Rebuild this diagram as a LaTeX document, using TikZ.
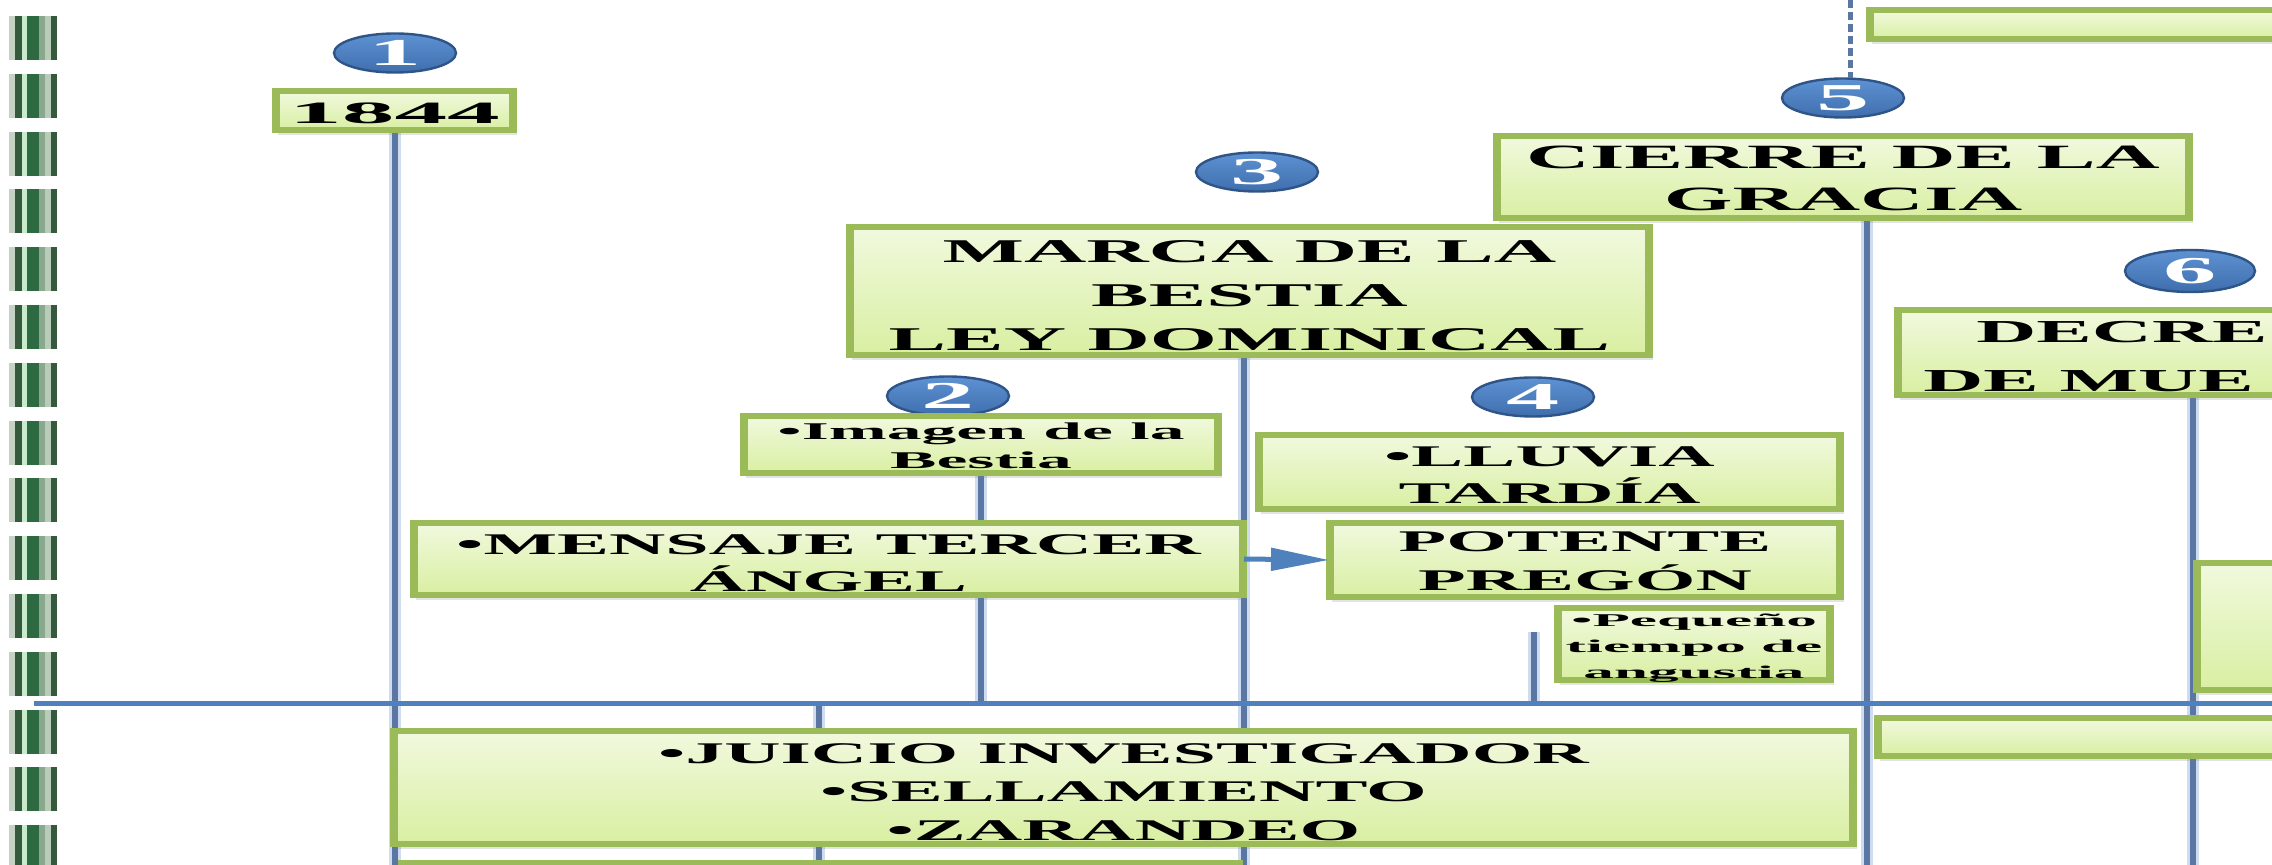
\documentclass[tikz,border=0pt]{standalone}
\usepackage{fontspec}
\usetikzlibrary{shapes.geometric, shadows, arrows.meta}
\newfontfamily\tfa{Liberation Serif}[FakeStretch=2.6]
\newfontfamily\tfb{Liberation Serif}[FakeStretch=2.9]
\newfontfamily\tfc{Liberation Serif}[FakeStretch=3.4]
\newfontfamily\nf{Liberation Serif}[FakeStretch=2.8]
\definecolor{gborder}{HTML}{9BBB59}
\definecolor{gtop}{HTML}{F1F9DE}
\definecolor{gbot}{HTML}{D9EFA2}
\definecolor{vline}{HTML}{5A76A2}
\definecolor{vhalo}{HTML}{CFDCEF}
\definecolor{tline}{HTML}{4F81BD}
\definecolor{ofillL}{HTML}{5E92D3}
\definecolor{ofillD}{HTML}{3F6EAD}
\definecolor{oedge}{HTML}{2F5487}
\definecolor{sdark}{HTML}{34593D}
\definecolor{sdarkg}{HTML}{2E6A41}
\definecolor{slgray}{HTML}{C5D3C5}
\definecolor{slgreen}{HTML}{C8EBCB}
\definecolor{sgg}{HTML}{8AA88E}
\definecolor{slgg}{HTML}{B9CBB9}
\pgfdeclarelayer{bg}
\pgfsetlayers{bg,main}
\begin{document}
\begin{tikzpicture}[x=0.5pt, y=-0.5pt,
  gbox/.style={draw=gborder, line width=3pt, top color=gtop, bottom color=gbot,
    inner sep=0pt, outer sep=0pt,
    drop shadow={opacity=0.22, shadow xshift=1.5pt, shadow yshift=-2.5pt}},
  txt/.style={inner sep=0pt, align=center, text=black},
  oval/.style={ellipse, draw=oedge, line width=1.2pt, top color=ofillL, bottom color=ofillD,
    inner sep=0pt, outer sep=0pt, minimum width=61pt, minimum height=19.5pt, text=white,
    font=\nf\bfseries\fontsize{19pt}{19pt}\selectfont},
  big/.style={font=\tfa\bfseries\fontsize{16.6pt}{22pt}\selectfont},
  mid/.style={font=\tfa\bfseries\fontsize{15pt}{18.5pt}\selectfont},
  vhal/.style={draw=vhalo, line width=6pt},
  vcore/.style={draw=vline, line width=3pt},
  tl/.style={draw=tline, line width=2.5pt},
  arr/.style={draw=tline, line width=2.5pt, -{Triangle[length=29pt, width=11pt]}},
  dsh/.style={draw=vline, line width=2.5pt, dash pattern=on 4pt off 2pt},
  side/.style={draw=gborder, line width=2.5pt}]
\useasboundingbox (0,0) rectangle (2272,865);
\clip (0,0) rectangle (2272,865);

% helper coordinates
\coordinate (bot) at (0,865);
\coordinate (tlA) at (34,704);
\coordinate (tlB) at (2272,704);
\coordinate (v2t) at (819,704);
\coordinate (v4x) at (1244,0);
\coordinate (v5t) at (1534,632);
\coordinate (v6x) at (1867,0);
\coordinate (v7x) at (2193,0);
\coordinate (top5) at (1850,0);

% boxes
\path
  node[gbox, minimum width=119.5pt, minimum height=19.5pt] (b1844) at (394.5,110.5) {}
  node[gbox, minimum width=400.5pt, minimum height=64pt] (marca) at (1249.5,291) {}
  node[gbox, minimum width=238pt, minimum height=28.5pt] (imagen) at (981,444.5) {}
  node[gbox, minimum width=415.5pt, minimum height=36pt] (mensaje) at (828.5,559) {}
  node[gbox, minimum width=291.5pt, minimum height=37pt] (lluvia) at (1549.5,472) {}
  node[gbox, minimum width=256pt, minimum height=37pt] (potente) at (1585,560) {}
  node[gbox, minimum width=137pt, minimum height=36pt] (pequeno) at (1694,644) {}
  node[gbox, minimum width=730.5pt, minimum height=56.5pt] (juicio) at (1123.5,787.5) {}
  node[gbox, minimum width=347pt, minimum height=41pt] (cierre) at (1843,177) {}
  node[gbox, minimum width=275pt, minimum height=42.5pt] (decreto) at (2172,352.5) {}
  node[gbox, minimum width=320.5pt, minimum height=14.5pt] (topright) at (2189.5,24.5) {}
  node[gbox, minimum width=152pt, minimum height=63.5pt] (rightbox) at (2348,626.5) {}
  node[gbox, minimum width=311.5pt, minimum height=19pt] (rightlow) at (2188.5,737) {}
  node[gbox, minimum width=419.5pt, minimum height=28.5pt] (bottombox) at (820.5,891.5) {};

% thicker vertical sides of the boxes
\foreach \n in {b1844,marca,imagen,mensaje,lluvia,potente,pequeno,juicio,cierre,decreto,topright,rightbox,rightlow,bottombox}{
  \draw[side] ([xshift=1.25pt]\n.north west) -- ([xshift=1.25pt]\n.south west);
  \draw[side] ([xshift=-1.25pt]\n.north east) -- ([xshift=-1.25pt]\n.south east);
}

% box texts
\node[txt, font=\tfc\bfseries\fontsize{15.5pt}{18pt}\selectfont] (t1844) at ([yshift=-1.5pt]b1844.center) {1844};
\node[txt, big] (tmarca) at ([yshift=-2.2pt]marca.center) {MARCA DE LA\\BESTIA\\LEY DOMINICAL};
\node[txt, font=\tfb\bfseries\fontsize{12pt}{14.5pt}\selectfont] (timagen) at ([yshift=-0.7pt]imagen.center) {•Imagen de la\\Bestia};
\node[txt, mid] (tmensaje) at ([yshift=-2.2pt]mensaje.center) {•MENSAJE TERCER\\ÁNGEL};
\node[txt, mid] (tlluvia) at ([yshift=-1.5pt]lluvia.center) {•LLUVIA\\TARDÍA};
\node[txt, font=\tfa\bfseries\fontsize{15pt}{19.5pt}\selectfont] (tpotente) at ([yshift=-0.7pt]potente.center) {POTENTE\\PREGÓN};
\node[txt, font=\tfc\bfseries\fontsize{9pt}{13pt}\selectfont] (tpequeno) at ([yshift=-2pt]pequeno.center) {•Pequeño\\tiempo de\\angustia};
\node[txt, font=\tfa\bfseries\fontsize{15pt}{19.3pt}\selectfont] (tjuicio) at ([yshift=-2.2pt]juicio.center) {•JUICIO INVESTIGADOR\\•SELLAMIENTO\\•ZARANDEO};
\node[txt, font=\tfa\bfseries\fontsize{17pt}{21pt}\selectfont] (tcierre) at ([yshift=-0.7pt]cierre.center) {CIERRE DE LA\\GRACIA};
% visible part of the text of the box cut by the right edge
\node[anchor=base west, inner sep=0pt, font=\tfa\bfseries\fontsize{16pt}{22pt}\selectfont] (dec1) at (1976,343) {DECRE};
\node[anchor=base west, inner sep=0pt, font=\tfa\bfseries\fontsize{16pt}{22pt}\selectfont] (dec2) at (1923,392) {DE MUE};

% arrow
\draw[arr] (mensaje.east) -- (potente.west);

\begin{pgfonlayer}{bg}
\clip (0,0) rectangle (2272,865);
\fill[white] (0,0) rectangle (2272,865);
% left stripes
\foreach \i in {0,...,14}{
  \pgfmathsetmacro{\yy}{16+57.8*\i}
  \fill[slgray] (9,\yy) rectangle (15,\yy+44);
  \fill[sdark] (15,\yy) rectangle (22,\yy+44);
  \fill[slgreen] (22,\yy) rectangle (27,\yy+44);
  \fill[sdarkg] (27,\yy) rectangle (39,\yy+44);
  \fill[sgg] (39,\yy) rectangle (45,\yy+44);
  \fill[slgg] (45,\yy) rectangle (51,\yy+44);
  \fill[sdark] (51,\yy) rectangle (57,\yy+44);
}
% vertical connectors
\foreach \s in {vhal,vcore}{
  \draw[\s] (b1844.south) -- (b1844.south |- bot);
  \draw[\s] (v2t) -- (v2t |- bot);
  \draw[\s] (imagen.south) -- (imagen.south |- tlA);
  \draw[\s] (marca.south -| v4x) -- (v4x |- bot);
  \draw[\s] (v5t) -- (v5t |- tlA);
  \draw[\s] (cierre.south -| v6x) -- (v6x |- bot);
  \draw[\s] (decreto.south -| v7x) -- (v7x |- bot);
}
% timeline
\draw[tl] (tlA) -- (tlB);
% ellipses
\node[oval] (e1) at (395,53) {1};
\node[oval] (e2) at (948,396) {2};
\node[oval] (e3) at (1257,172) {3};
\node[oval] (e4) at (1533,397) {4};
\node[oval] (e5) at (1843,98) {5};
\node[oval, minimum width=65pt, minimum height=21pt] (e6) at (2190,271) {6};
% dashed line above ellipse 5
\draw[dsh] (top5) -- (top5 |- e5.north);
\end{pgfonlayer}
\end{tikzpicture}
\end{document}
